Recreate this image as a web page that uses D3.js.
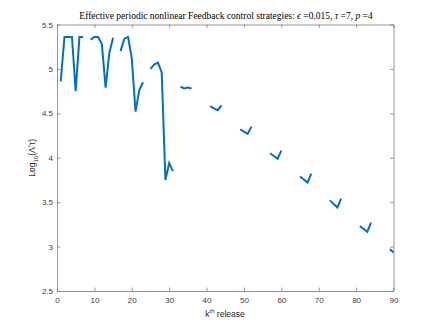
<!DOCTYPE html>
<html><head><meta charset="utf-8">
<script src="https://cdn.jsdelivr.net/npm/d3@7"></script>
<style>html,body{margin:0;padding:0;background:#fff;}svg{display:block;}</style>
</head><body>
<svg id="chart" width="436" height="327"></svg>
<script>
const release = [1,2,3,4,5,6,7,8,9,10,11,12,13,14,15,16,17,18,19,20,21,22,23,24,25,26,27,28,29,30,31,32,33,34,35,36,37,41,42,43,44,45,49,50,51,52,53,57,58,59,60,61,65,66,67,68,69,73,74,75,76,77,81,82,83,84,85,89,90];
const logValues = [4.86,5.36,5.36,5.36,4.75,5.36,5.36,null,
  5.33,5.36,5.36,5.28,4.79,5.18,5.35,null,
  5.2,5.34,5.36,5.12,4.52,4.76,4.85,null,
  5.0,5.05,5.07,4.96,3.75,3.94,3.85,null,
  4.8,4.78,4.79,4.78,null,
  4.58,4.555,4.535,4.59,null,
  4.32,4.295,4.27,4.35,null,
  4.05,4.02,3.99,4.08,null,
  3.79,3.755,3.72,3.82,null,
  3.52,3.48,3.44,3.54,null,
  3.23,3.2,3.165,3.27,null,
  2.97,2.935];
const xTicks = [0,10,20,30,40,50,60,70,80,90];
const yTicks = [2.5,3,3.5,4,4.5,5,5.5];

const svg = d3.select("#chart");
const L = 57, R = 393.5, T = 24.5, B = 291;
const x = d3.scaleLinear().domain([0,90]).range([L,R]);
const y = d3.scaleLinear().domain([2.5,5.5]).range([B,T]);
const axisColor = "#262626";
const lineColor = "#7a7a7a";
const tickFont = "Helvetica, 'Liberation Sans', Arial, sans-serif";

const data = release.map((k,i)=>({k, v: logValues[i]}));

const line = d3.line().defined(d=>d.v!==null).x(d=>x(d.k)).y(d=>y(d.v));
svg.append("path").datum(data).attr("d", line)
  .attr("fill","none").attr("stroke","#0072BD").attr("stroke-width",2)
  .attr("stroke-linejoin","miter");

const tl = 3.4;
const gx = svg.append("g").attr("transform",`translate(0,${B})`)
  .call(d3.axisBottom(x).tickValues(xTicks).tickSizeInner(-tl).tickSizeOuter(0).tickPadding(6).tickFormat(d3.format("d")));
const gxt = svg.append("g").attr("transform",`translate(0,${T})`)
  .call(d3.axisTop(x).tickValues(xTicks).tickSizeInner(-tl).tickSizeOuter(0).tickFormat(""));
const gy = svg.append("g").attr("transform",`translate(${L},0)`)
  .call(d3.axisLeft(y).tickValues(yTicks).tickSizeInner(-tl).tickSizeOuter(0).tickPadding(4).tickFormat(d=>String(d)));
const gyr = svg.append("g").attr("transform",`translate(${R},0)`)
  .call(d3.axisRight(y).tickValues(yTicks).tickSizeInner(-tl).tickSizeOuter(0).tickFormat(""));
[gx,gxt,gy,gyr].forEach(g=>{
  g.selectAll("path.domain").attr("stroke",lineColor).attr("stroke-width",0.8);
  g.selectAll(".tick line").attr("stroke",lineColor).attr("stroke-width",0.8);
  g.selectAll("text").attr("fill","#3a3a3a").attr("font-family",tickFont).attr("font-size","8px");
});

// title
const title = svg.append("text").attr("x",226).attr("y",19).attr("text-anchor","middle")
  .attr("font-family","'Liberation Serif','DejaVu Serif',serif").attr("font-size","9.5px").attr("fill","#000");
title.append("tspan").text("Effective periodic nonlinear Feedback control strategies: ");
title.append("tspan").attr("font-style","italic").text("\u03F5");
title.append("tspan").text(" =0.015, ");
title.append("tspan").attr("font-style","italic").text("\u03C4");
title.append("tspan").text(" =7, ");
title.append("tspan").attr("font-style","italic").text("p");
title.append("tspan").text(" =4");

// x label
const xl = svg.append("text").attr("x",225).attr("y",317).attr("text-anchor","middle")
  .attr("font-family",tickFont).attr("font-size","8.5px").attr("fill",axisColor);
xl.append("tspan").text("k");
xl.append("tspan").attr("dy",-4).attr("font-size","6px").text("th");
xl.append("tspan").attr("dy",4).text(" release");

// y label
const yl = svg.append("text").attr("transform",`translate(35,${(T+B)/2}) rotate(-90)`).attr("text-anchor","middle")
  .attr("font-family",tickFont).attr("font-size","8.5px").attr("fill",axisColor);
yl.append("tspan").text("Log");
yl.append("tspan").attr("dy",2.5).attr("font-size","6px").text("10");
yl.append("tspan").attr("dy",-2.5).text("(\u039B");
yl.append("tspan").attr("dy",-3).attr("font-size","6px").text("*");
yl.append("tspan").attr("dy",3).text("\u03C4)");
</script>
</body></html>
